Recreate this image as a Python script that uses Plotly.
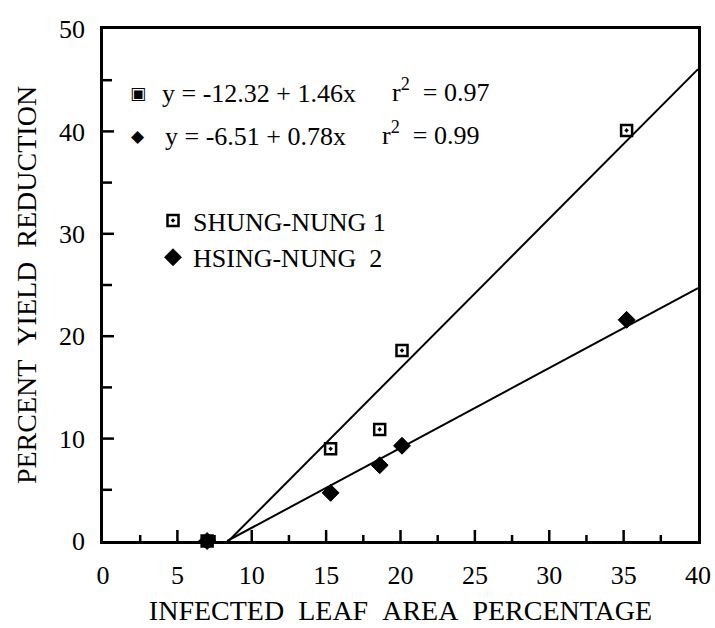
import plotly.graph_objects as go

# ---- data ----
infected_area = [7.0, 15.3, 18.6, 20.1, 35.2]
shung_nung_1 = [0.0, 9.0, 10.9, 18.6, 40.1]
hsing_nung_2 = [0.0, 4.7, 7.4, 9.3, 21.6]

# regression coefficients printed on the chart: y = a + b x
fit_sn1 = (-12.32, 1.46, 0.97)
fit_hn2 = (-6.51, 0.78, 0.99)

series_names = ["SHUNG-NUNG 1", "HSING-NUNG\u00a0\u00a02"]
x_ticks = [0, 5, 10, 15, 20, 25, 30, 35, 40]
x_minor_ticks = [2.5, 7.5, 12.5, 17.5, 22.5, 27.5, 32.5, 37.5]
y_ticks = [0, 10, 20, 30, 40, 50]
y_minor_ticks = [5, 15, 25, 35, 45]
x_max = 40
y_max = 50

FONT = "Liberation Serif, Times New Roman, serif"
W, H = 715, 628
ML, MR, MT, MB = 103, 17, 29, 87
PW, PH = W - ML - MR, H - MT - MB


def fit_line(fit):
    a, b, _ = fit
    x0 = -a / b
    return [x0, x_max], [a + b * x0, a + b * x_max]


def px2paper(px, py):
    return (px - ML) / PW, (H - MB - py) / PH


fig = go.Figure()

for fit in (fit_sn1, fit_hn2):
    lx, ly = fit_line(fit)
    fig.add_trace(go.Scatter(x=lx, y=ly, mode="lines",
                             line=dict(color="black", width=2),
                             showlegend=False, hoverinfo="skip"))

fig.add_trace(go.Scatter(
    x=infected_area, y=hsing_nung_2, mode="markers", name=series_names[1],
    legendgroup="b", legendrank=2,
    marker=dict(symbol="diamond", size=13, color="black",
                line=dict(color="black", width=1)),
    cliponaxis=False))
fig.add_trace(go.Scatter(
    x=infected_area, y=shung_nung_1, mode="markers", name=series_names[0],
    legendgroup="a", legendrank=1,
    marker=dict(symbol="square-open-dot", size=11, color="black",
                line=dict(color="black", width=2.5)),
    cliponaxis=False))


def eq_text(fit):
    a, b, _ = fit
    sign = "-" if a < 0 else ""
    return f"y = {sign}{abs(a):.2f} + {b:.2f}x"


def r2_text(fit):
    return f"r<sup>2</sup>\u2002= {fit[2]:.2f}"


ann = []
rows = [("\u25a3", fit_sn1, 93, 160, 390, 17), ("\u25c6", fit_hn2, 136, 163, 380, 17)]
for glyph, fit, py, tx, rx, gs in rows:
    gx, gy = px2paper(138, py)
    ann.append(dict(x=gx, y=gy, xref="paper", yref="paper", text=glyph,
                    showarrow=False, xanchor="center", yanchor="middle",
                    font=dict(family="DejaVu Sans", size=gs, color="black")))
    ex, ey = px2paper(tx, py)
    ann.append(dict(x=ex, y=ey, xref="paper", yref="paper", text=eq_text(fit),
                    showarrow=False, xanchor="left", yanchor="middle",
                    font=dict(family=FONT, size=26, color="black")))
    rxp, ryp = px2paper(rx, py - 3)
    ann.append(dict(x=rxp, y=ryp, xref="paper", yref="paper", text=r2_text(fit),
                    showarrow=False, xanchor="left", yanchor="middle",
                    font=dict(family=FONT, size=26, color="black")))

# tick marks drawn inside the frame at the tick values (axis scale)
shapes = []
for vals, length in ((x_ticks[1:-1], 11), (x_minor_ticks, 6)):
    for t in vals:
        shapes.append(dict(type="line", xref="x", yref="y domain",
                           x0=t, x1=t, y0=0, y1=length / PH,
                           line=dict(color="black", width=2.5)))
for vals, length in ((y_ticks[1:-1], 11), (y_minor_ticks, 9)):
    for t in vals:
        shapes.append(dict(type="line", xref="x domain", yref="y",
                           x0=0, x1=length / PW, y0=t, y1=t,
                           line=dict(color="black", width=2.5)))

lgx, lgy = px2paper(153, 197)

axis_common = dict(
    showline=True, linecolor="black", linewidth=2.5, mirror=True,
    showgrid=False, zeroline=False, automargin=False,
    ticks="", tickfont=dict(family=FONT, size=26, color="black"),
)

fig.update_layout(
    template="none",
    width=W, height=H,
    margin=dict(l=ML, r=MR, t=MT, b=MB, autoexpand=False),
    paper_bgcolor="white", plot_bgcolor="white",
    font=dict(family=FONT, color="black"),
    showlegend=True,
    xaxis=dict(
        range=[0, x_max], tickmode="array", tickvals=x_ticks,
        ticklabelstandoff=9,
        title=dict(text="INFECTED\u00a0\u00a0LEAF\u00a0\u00a0AREA\u00a0\u00a0PERCENTAGE",
                   font=dict(family=FONT, size=28, color="black"), standoff=12),
        **axis_common),
    yaxis=dict(
        range=[0, y_max], tickmode="array", tickvals=y_ticks,
        ticklabelstandoff=10,
        title=dict(text="PERCENT\u00a0\u00a0YIELD\u00a0\u00a0REDUCTION",
                   font=dict(family=FONT, size=28, color="black"), standoff=15),
        **axis_common),
    legend=dict(x=lgx, y=lgy, xanchor="left", yanchor="top",
                bgcolor="rgba(0,0,0,0)", borderwidth=0,
                traceorder="grouped", tracegroupgap=0,
                font=dict(family=FONT, size=26, color="black")),
    annotations=ann,
    shapes=shapes,
)

fig.write_html("out.html")
